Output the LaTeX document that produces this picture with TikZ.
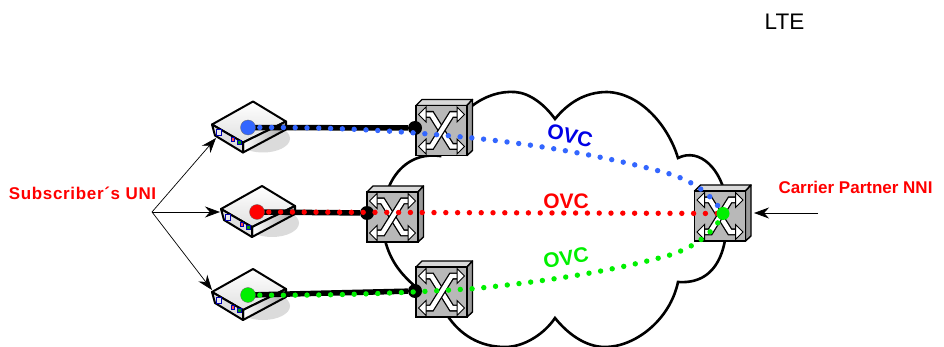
\documentclass[tikz,border=0pt]{standalone}
\usepackage{fontspec}
\setmainfont{Liberation Sans}
\usetikzlibrary{arrows.meta}
\definecolor{ovcblue}{RGB}{51,102,255}
\definecolor{ovcgreen}{RGB}{0,240,0}
\definecolor{ovcred}{RGB}{255,0,0}
\definecolor{ovcdarkblue}{RGB}{0,0,230}
\tikzset{
	cloudline/.style={line width=2.6pt, draw=black, fill=white},
	portdot/.style={circle, fill=black, minimum size=14pt, inner sep=0pt},
	enddot/.style={circle, draw=black!60, line width=0.3pt, minimum size=15pt, inner sep=0pt},
	feed/.style={line width=5.5pt, color=black},
	ovcdots/.style={line width=5.4pt, line cap=round, dash pattern=on 0pt off 11.8pt},
	pointer/.style={line width=0.7pt, -{Stealth[length=15pt,width=11pt]}},
	heading/.style={font=\fontsize{17}{19}\selectfont\bfseries, text=ovcred, inner sep=0pt},
	ovclabel/.style={font=\fontsize{21}{24}\selectfont\bfseries, inner sep=0pt}
}
% one modem, #1 is the place of its coloured dot
\newcommand{\modem}[1]{
	\begin{scope}[shift={(#1)}]
		\fill[black!14] (15, 11) ellipse (27 and 14);
		\draw[line width=2pt, line join=round, top color=white, bottom color=black!12] (-36, -3) -- (5, -26) -- (38, -6) -- (-5, 15) -- cycle;
		\draw[line width=2pt, line join=round, left color=white, right color=black!35] (-5, 15) -- (38, -6) -- (38, 2) -- (-5, 25) -- cycle;
		\draw[line width=2pt, line join=round, fill=black!12] (-36, -3) -- (-5, 15) -- (-5, 25) -- (-33, 8) -- cycle;
		\draw[line width=0.5pt, color=blue!70!black, fill=black!8] (-31.5, 2) rectangle (-26.5, 8);
		\draw[line width=0.5pt, color=blue!70!black, fill=red!70] (-17, 10) rectangle (-13.5, 14);
		\draw[line width=0.5pt, color=blue!70!black, fill=green!60!black] (-10.5, 13) rectangle (-7, 17);
	\end{scope}
}
% one bent white arrow of the switch face
\newcommand{\bentarrow}[1]{
	\draw[line width=7pt, color=black] #1;
	\draw[line width=4.4pt, color=white] #1;
}
\newcommand{\swhead}[2]{
	\draw[line width=1pt, fill=white, line join=miter] (#1, #2-7.5) -- (#1+\swdir*7.5, #2) -- (#1, #2+7.5) -- cycle;
}
\newcommand{\switchbox}[1]{
	\begin{scope}[shift={(#1)}]
		\draw[line width=1.4pt, line join=round, fill=black!15] (-25.5, -25) -- (-19.5, -31) -- (31, -31) -- (25.5, -25) -- cycle;
		\draw[line width=1.4pt, line join=round, fill=black!40] (25.5, -25) -- (31, -31) -- (31, 20) -- (25.5, 25) -- cycle;
		\draw[line width=1.4pt, fill=black!28] (-25.5, -25) rectangle (25.5, 25);
		\bentarrow{(-15.5, -16) -- (-10, -16) -- (10, 16) -- (15.5, 16)}
		\bentarrow{(-15.5, 16) -- (-10, 16) -- (10, -16) -- (15.5, -16)}
		\def\swdir{-1}
		\swhead{-15.5}{-16}
		\swhead{-15.5}{16}
		\def\swdir{1}
		\swhead{15.5}{-16}
		\swhead{15.5}{16}
	\end{scope}
}

\begin{document}
\begin{tikzpicture}[x=1pt, y=-1pt]
	\useasboundingbox (0, 0) rectangle (944, 347);
	
	%%%%% CLOUD %%%%%
	\draw[cloudline] (440, 150)
		.. controls (455, 112) and (485, 90) .. (515, 92)
		.. controls (530, 93) and (545, 105) .. (555, 119)
		.. controls (568, 103) and (585, 92) .. (607, 92)
		.. controls (640, 93) and (668, 125) .. (678, 158)
		.. controls (700, 147) and (722, 170) .. (726, 200)
		.. controls (730, 240) and (722, 285) .. (678, 282)
		.. controls (670, 320) and (635, 347) .. (605, 347)
		.. controls (585, 347) and (567, 333) .. (555, 318)
		.. controls (545, 333) and (525, 347) .. (505, 347)
		.. controls (480, 347) and (460, 335) .. (447, 315)
		.. controls (425, 290) and (395, 280) .. (385, 240)
		.. controls (375, 200) and (395, 150) .. (440, 156)
		-- cycle;
	
	%%%%% SWITCHES %%%%%
	\coordinate (swTop) at (441.5, 130.5);
	\coordinate (swMid) at (392.5, 217);
	\coordinate (swLow) at (441.5, 292);
	\coordinate (swNni) at (720, 216);
	\switchbox{swTop}
	\switchbox{swMid}
	\switchbox{swLow}
	\switchbox{swNni}
	
	%%%%% MODEMS %%%%%
	\coordinate (moTop) at (248, 127.5);
	\coordinate (moMid) at (257, 212);
	\coordinate (moLow) at (248, 295);
	\modem{moTop}
	\modem{moMid}
	\modem{moLow}
	
	%%%%% FEEDS %%%%%
	\node[portdot] (portTop) at (415, 128) {};
	\node[portdot] (portMid) at (367, 213) {};
	\node[portdot] (portLow) at (415, 291) {};
	\draw[feed] (moTop) -- (portTop);
	\draw[feed] (moMid) -- (portMid);
	\draw[feed] (moLow) -- (portLow);
	
	\node[enddot, fill=ovcblue] (dotTop) at (moTop) {};
	\node[enddot, fill=ovcred] (dotMid) at (moMid) {};
	\node[enddot, fill=ovcgreen] (dotLow) at (moLow) {};
	
	%%%%% OVC %%%%%
	\coordinate (nni) at (723, 213.5);
	\draw[ovcdots, color=ovcblue] (dotTop.center) .. controls (340, 127) and (400, 131) .. (473, 138) .. controls (540, 145) and (610, 157) .. (670, 174) .. controls (695, 182) and (712, 195) .. (nni);
	\draw[ovcdots, color=ovcred] (dotMid.center) -- (nni);
	\draw[ovcdots, color=ovcgreen] (dotLow.center) .. controls (340, 296) and (400, 293) .. (473, 288.7) .. controls (540, 282) and (610, 272) .. (670, 255) .. controls (695, 247) and (715, 232) .. (nni);
	\node[circle, fill=ovcgreen, minimum size=13pt, inner sep=0pt] (dotNni) at (nni) {};
	
	\node[ovclabel, text=ovcdarkblue, rotate=-13] (ovcTop) at (570, 136) {OVC};
	\node[ovclabel, text=ovcred] (ovcMid) at (566, 201) {OVC};
	\node[ovclabel, text=ovcgreen, rotate=9] (ovcLow) at (566, 258) {OVC};
	
	%%%%% LABELS %%%%%
	\node[heading] (subUni) at (82.5, 193) {\addfontfeature{LetterSpace=4}Subscriber´s UNI};
	\node[heading] (carNni) at (855.5, 187) {Carrier Partner NNI};
	\node[font=\fontsize{22.5}{24}\selectfont, inner sep=0pt] (lteText) at (784.5, 22) {LTE};
	
	\coordinate (fan) at (152, 212);
	\coordinate (nniTail) at (818, 213);
	\draw[pointer] (fan) -- (216, 138);
	\draw[pointer] (fan) -- (220, 212);
	\draw[pointer] (fan) -- (212, 290);
	\draw[pointer] (nniTail) -- (754, 213);
\end{tikzpicture}
\end{document}
